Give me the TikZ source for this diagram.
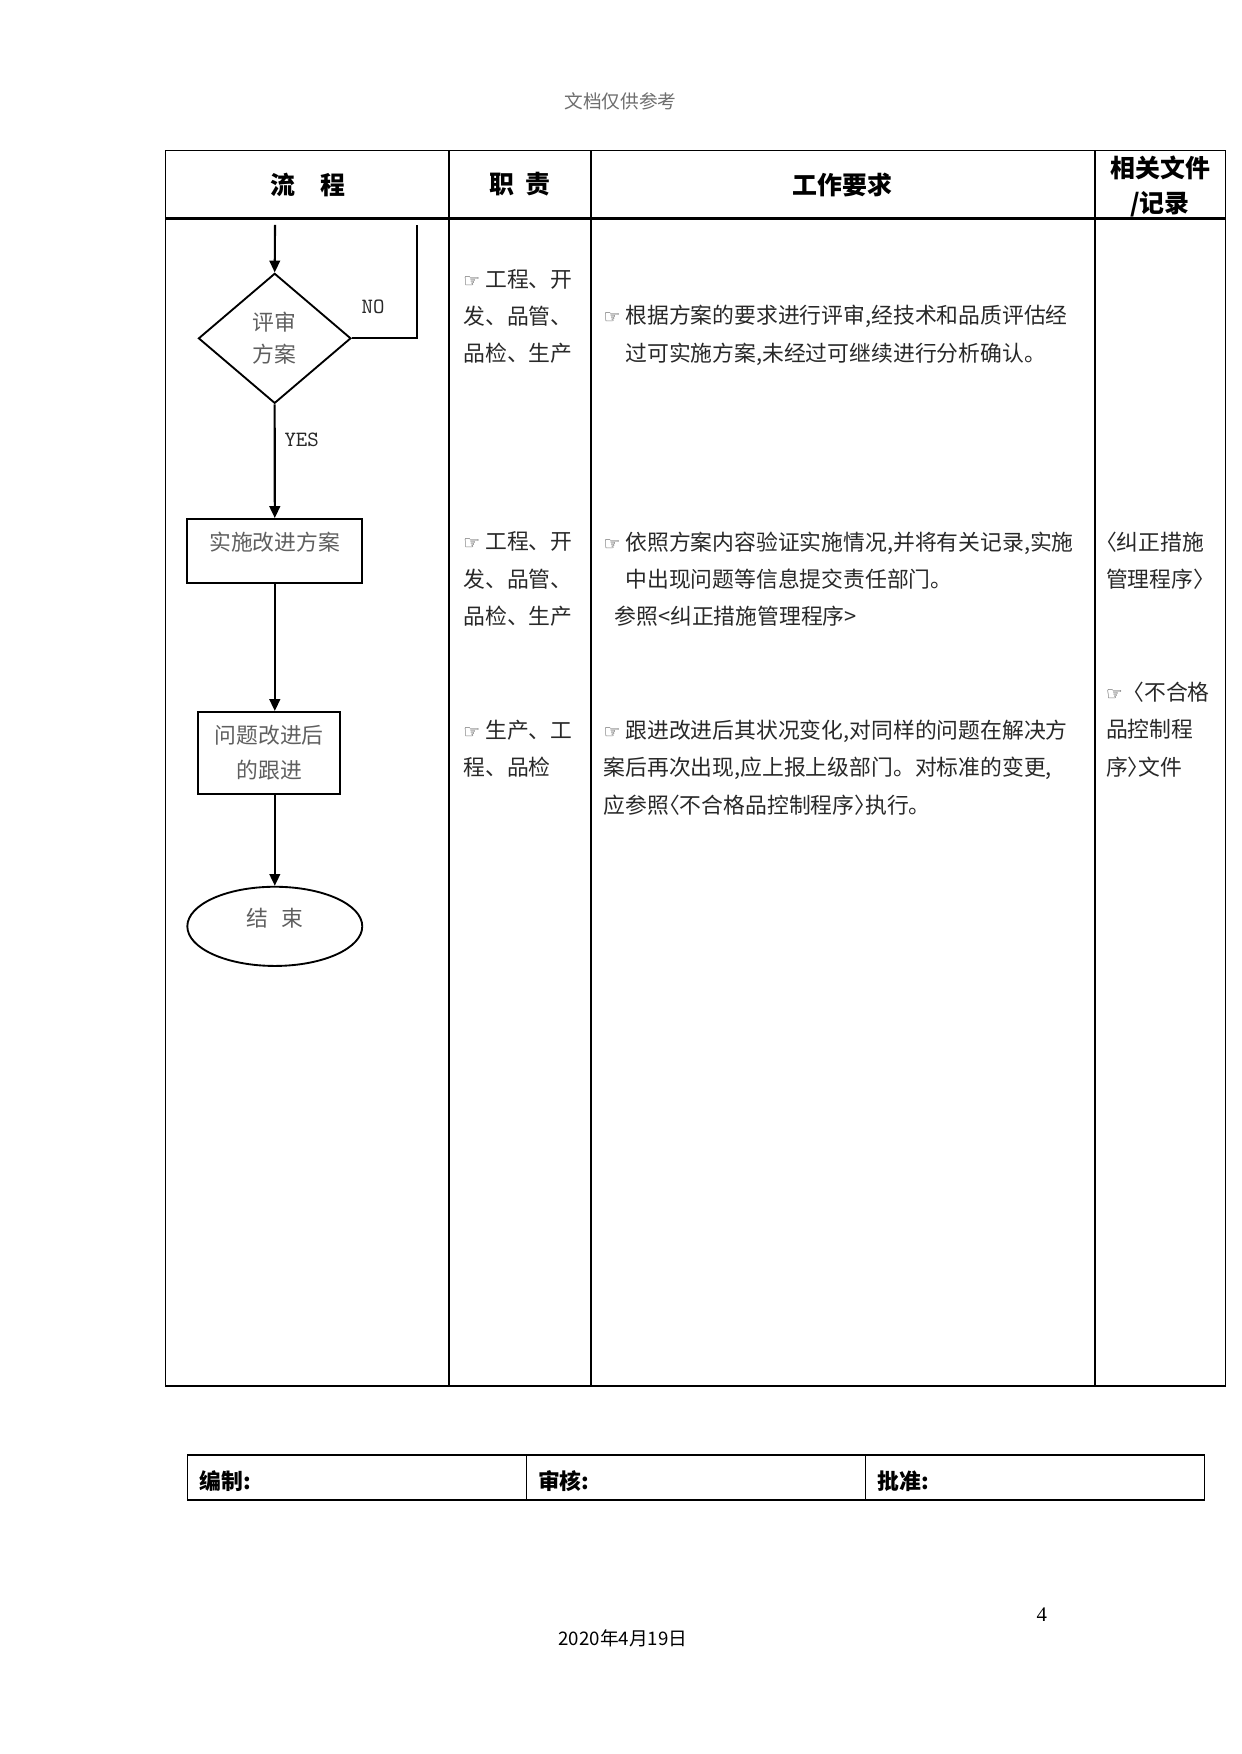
\documentclass[tikz,border=0pt]{standalone}
\usepackage{fontspec}
\setmainfont{Noto Sans CJK SC}
\newfontfamily\handfont{DejaVu Sans}
\newfontfamily\pagefont{Liberation Serif}
\usepackage{xcolor}
\definecolor{flowgrey}{RGB}{95, 95, 95}
\definecolor{textgrey}{RGB}{40, 40, 40}
\definecolor{notegrey}{RGB}{110, 110, 110}
\usetikzlibrary{
  arrows.meta,
  positioning,
  shapes.geometric,
  calc
}
\newcommand{\hand}[1][1em]{\makebox[#1][l]{\handfont\fontsize{9}{9}\selectfont ☞}}
\newcommand{\lbrk}{\makebox[0.5em][r]{〈}}
\newcommand{\rbrk}{\makebox[0.5em][l]{〉}}

\begin{document}
\begin{tikzpicture}[
  tableline/.style={line width=0.7pt},
  flowbox/.style={draw, line width=0.9pt, minimum width=2.96cm, minimum height=1.08cm, inner sep=0pt, align=center, text=flowgrey, font=\fontsize{10.5}{17}\selectfont},
  decision/.style={draw, diamond, line width=0.9pt, minimum width=2.58cm, minimum height=2.2cm, inner sep=0pt, align=center, text=flowgrey, font=\fontsize{10.5}{15.5}\selectfont},
  endnode/.style={draw, ellipse, line width=0.9pt, minimum width=2.96cm, minimum height=1.34cm, inner sep=0pt, text=flowgrey, font=\fontsize{10.5}{17}\selectfont},
  flowline/.style={line width=1pt, -{Triangle[length=2mm, width=1.8mm]}},
  branchlabel/.style={font=\ttfamily\fontsize{10.5}{12}\selectfont, text=textgrey},
  headtext/.style={font=\bfseries\fontsize{12}{16.6}\selectfont, align=center},
  celltext/.style={anchor=west, align=left, inner sep=0pt, text=textgrey, font=\fontsize{10.5}{18}\selectfont},
  signtext/.style={anchor=west, inner sep=0pt, font=\bfseries\fontsize{10.5}{12}\selectfont}
]
  \useasboundingbox (0,0) rectangle (21,-29.68);

  % page header
  \node[font=\fontsize{9}{9}\selectfont, text=notegrey] (watermark) at (10.50,-1.72) {文档仅供参考};

  % main table frame
  \draw[tableline] (2.804,-2.550) rectangle (20.741,-23.454);
  \foreach \cx in {7.598, 10.001, 18.530}
    \draw[tableline] (\cx,-2.550) -- (\cx,-23.454);
  \draw[line width=1.4pt] (2.804,-3.694) -- (20.741,-3.694);

  % header row
  \node[headtext] (hflow) at (5.207,-3.124) {流\hspace{1em}程};
  \node[headtext] (hduty) at (8.80,-3.124) {职\hspace{0.45em}责};
  \node[headtext] (hwork) at (14.26,-3.124) {工作要求};
  \node[headtext] (hdocs) at (19.63,-3.158) {相关文件\\/记录};

  % flow chart
  \coordinate (entry) at (4.654,-3.807);
  \coordinate (loop) at (7.051,-3.807);
  \node[decision] (review) at (4.648,-5.725) {评审\\方案};
  \node[flowbox, text height=0.3cm, text depth=0.3cm] (impl) at (4.650,-9.322) {实施改进方案};
  \node[flowbox, minimum width=2.4cm, minimum height=1.39cm] (track) at (4.555,-12.742) {问题改进后\\的跟进};
  \node[endnode, text height=0.3cm, text depth=0.3cm] (finish) at (4.650,-15.675) {结\hspace{0.6em}束};

  \draw[flowline] (entry) -- (review.north);
  \draw[line width=1pt] (review.east) -| (loop);
  \draw[flowline] (review.south) -- (impl.north);
  \draw[flowline] (impl.south) -- (impl.south |- track.north);
  \draw[flowline] (finish.north |- track.south) -- (finish.north);

  \node[branchlabel] (nolab) at (6.312,-5.195) {NO};
  \node[branchlabel] (yeslab) at (5.105,-7.446) {YES};

  % duties
  \node[celltext] (duty1) at (7.835,-5.354) {\hand 工程、开\\发、品管、\\品检、生产};
  \node[celltext] (duty2) at (7.835,-9.800) {\hand 工程、开\\发、品管、\\品检、生产};
  \node[celltext] (duty3) at (7.835,-12.668) {\hand 生产、工\\程、品检};

  % work requirements
  \node[celltext] (work1) at (10.207,-5.675) {\hand 根据方案的要求进行评审,经技术和品质评估经\\\hspace*{1em}过可实施方案,未经过可继续进行分析确认。};
  \node[celltext] (work2) at (10.207,-9.800) {\hand 依照方案内容验证实施情况,并将有关记录,实施\\\hspace*{1em}中出现问题等信息提交责任部门。\\\hspace*{0.5em}参照<纠正措施管理程序>};
  \node[celltext] (work3) at (10.207,-12.984) {\hand 跟进改进后其状况变化,对同样的问题在解决方\\案后再次出现,应上报上级部门。对标准的变更,\\应参照\lbrk 不合格品控制程序\rbrk 执行。};

  % related documents
  \node[celltext] (docs2) at (18.709,-9.486) {\lbrk 纠正措施\\管理程序\rbrk};
  \node[celltext] (docs3) at (18.709,-12.346) {\hand[0.75em]〈不合格\\品控制程\\序\rbrk 文件};

  % sign-off table
  \draw[tableline] (3.170,-24.617) rectangle (20.379,-25.383);
  \foreach \cx in {8.910, 14.643}
    \draw[tableline] (\cx,-24.617) -- (\cx,-25.383);
  \node[signtext] (compile) at (3.373,-25.06) {编制:};
  \node[signtext] (check) at (9.099,-25.06) {审核:};
  \node[signtext] (approve) at (14.841,-25.06) {批准:};

  % page footer
  \node[font=\pagefont\fontsize{10}{10}\selectfont] (pagenum) at (17.63,-27.32) {4};
  \node[font=\fontsize{9}{9}\selectfont] (date) at (10.54,-27.72) {2020年4月19日};
\end{tikzpicture}
\end{document}
